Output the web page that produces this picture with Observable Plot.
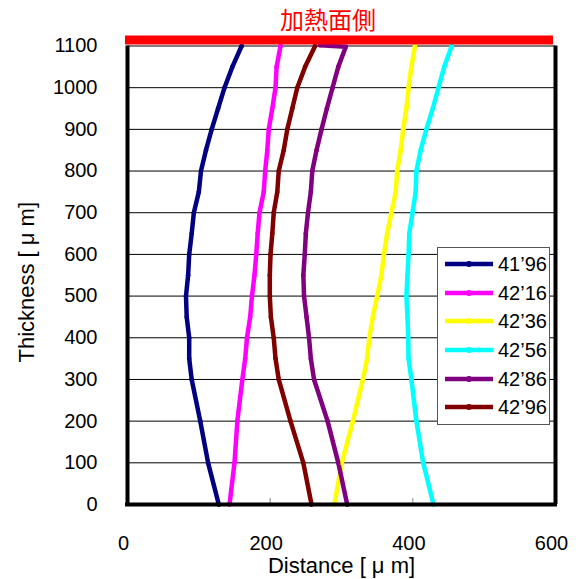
<!DOCTYPE html>
<html>
<head>
<meta charset="utf-8">
<script src="https://cdn.jsdelivr.net/npm/d3@7"></script>
<script src="https://cdn.jsdelivr.net/npm/@observablehq/plot@0.6"></script>
<style>
  body { margin: 0; background: #fff; }
  #wrap { position: relative; width: 580px; height: 579px; font-family: "Liberation Sans", Arial, sans-serif; }
  #chart { position: absolute; left: 0; top: 0; }
  #title { position: absolute; left: 0; top: 6px; width: 656px; text-align: center;
           font-family: "Noto Sans CJK JP", sans-serif; font-size: 24px; line-height: 26px; color: #ff0000; }
  #legend { position: absolute; left: 437px; top: 247px; width: 113px; height: 178px;
            border: 1px solid #555; background: #fff; box-sizing: border-box; padding-top: 2px; }
  .row { display: flex; align-items: center; height: 28.6px; }
  .row span { font-size: 20px; margin-left: 4px; line-height: 20px; }
</style>
</head>
<body>
<div id="wrap">
  <div id="chart"></div>
  <div id="title">加熱面側</div>
  <div id="legend"></div>
</div>
<script>
// Thickness positions (µm) at which each profile is sampled
const thickness = [0, 100, 200, 300, 350, 400, 450, 500, 550, 600, 650, 700, 750, 800, 850, 900, 950, 1000, 1050, 1100];
// Purple profile bends back along the heated surface at the top
const thickness4286 = [0, 100, 200, 300, 350, 400, 450, 500, 550, 600, 650, 700, 750, 800, 850, 900, 950, 1000, 1050, 1098, 1102];

// Distance (µm) of each front at the thickness positions above
const dist4196 = [128, 113, 102, 90, 86.5, 86.5, 83, 82, 85, 86.5, 90, 93, 100, 103, 110, 118, 127, 136, 147, 160];
const dist4216 = [143, 150, 154, 161, 165, 167.5, 172, 174.5, 178, 180.5, 182.5, 185, 191, 193, 196, 198, 203, 207.5, 209, 214.5];
const dist4236 = [290, 300.5, 316, 330, 336, 339, 344, 350, 356, 359.5, 364, 370, 376, 378, 383, 386.5, 391, 394, 398, 403];
const dist4256 = [429, 414.5, 405, 398, 394, 393.5, 392.5, 391, 392.5, 394, 395, 399.5, 404, 405, 411, 419, 428, 436, 444, 454.5];
const dist4286 = [308, 295.5, 280.5, 261.5, 257, 254.5, 251, 247.5, 246.5, 248.5, 250, 253, 257, 259, 265, 272, 279.5, 287.5, 295.5, 306, 270];
const dist4296 = [258, 246.5, 228.5, 212, 207.5, 205, 201, 199.5, 199.5, 200.5, 203, 205, 210, 212, 219, 224, 231, 238, 249, 263];

const seriesNames = ["41\u201996", "42\u201916", "42\u201936", "42\u201956", "42\u201986", "42\u201996"];
const seriesColors = ["#000080", "#ff00ff", "#ffff00", "#00ffff", "#800080", "#800000"];

const xTicks = [0, 200, 400, 600];
const yTicks = [0, 100, 200, 300, 400, 500, 600, 700, 800, 900, 1000, 1100];

const seriesData = [
  [seriesNames[0], thickness, dist4196],
  [seriesNames[1], thickness, dist4216],
  [seriesNames[2], thickness, dist4236],
  [seriesNames[3], thickness, dist4256],
  [seriesNames[4], thickness4286, dist4286],
  [seriesNames[5], thickness, dist4296]
];
const rows = seriesData.flatMap(([name, ys, xs]) =>
  xs.map((d, i) => ({series: name, distance: d, thickness: ys[i]})));

const chart = Plot.plot({
  width: 580,
  height: 579,
  marginLeft: 127,
  marginRight: 25,
  marginTop: 45.5,
  marginBottom: 75,
  x: {domain: [0, 600], axis: null},
  y: {domain: [0, 1100], axis: null},
  color: {domain: seriesNames, range: seriesColors},
  style: {fontFamily: "'Liberation Sans', Arial, sans-serif", fontSize: "20px", color: "#000", background: "#fff", overflow: "visible"},
  marks: [
    Plot.gridY(yTicks, {stroke: "#000", strokeOpacity: 1, strokeWidth: 1}),
    Plot.axisX([200, 400], {tickSize: -6, tickFormat: () => "", stroke: "#888", label: null}),
    Plot.axisY(yTicks, {tickSize: 0, tickPadding: 30, label: null, fontSize: 20, tickFormat: d => String(d)}),
    Plot.axisX(xTicks, {tickSize: 0, tickPadding: 31, label: null, fontSize: 20, dx: -4, tickFormat: d => String(d)}),
    Plot.line(rows, {x: "distance", y: "thickness", z: "series", stroke: "series", strokeWidth: 4.5, strokeLinejoin: "round"}),
    Plot.dot(rows, {x: "distance", y: "thickness", fill: "series", r: 2.3}),
    Plot.ruleX([0, 600], {strokeWidth: 4, stroke: "#000"}),
    Plot.ruleY([0], {strokeWidth: 4, stroke: "#000", strokeLinecap: "square"}),
    // heated surface on the top face
    Plot.ruleY([1100], {stroke: "#ff0000", strokeWidth: 9, dy: -6, insetLeft: -2, insetRight: 2}),
    Plot.text(["Distance [ \u03bc m]"], {frameAnchor: "bottom", lineAnchor: "middle", textAnchor: "middle", dy: 61, fontSize: 22}),
    Plot.text(["Thickness [ \u03bc m]"], {frameAnchor: "left", lineAnchor: "middle", textAnchor: "middle", dx: -101, dy: 7, rotate: -90, fontSize: 22})
  ]
});
document.getElementById("chart").appendChild(chart);

// legend built from the same series list
const legend = d3.select("#legend");
seriesNames.forEach((name, i) => {
  const row = legend.append("div").attr("class", "row");
  const svg = row.append("svg").attr("width", 56).attr("height", 10);
  svg.append("line").attr("x1", 7).attr("x2", 55).attr("y1", 5).attr("y2", 5)
    .attr("stroke", seriesColors[i]).attr("stroke-width", 4.5);
  svg.append("circle").attr("cx", 31).attr("cy", 5).attr("r", 3).attr("fill", seriesColors[i]);
  row.append("span").text(name);
});
</script>
</body>
</html>
